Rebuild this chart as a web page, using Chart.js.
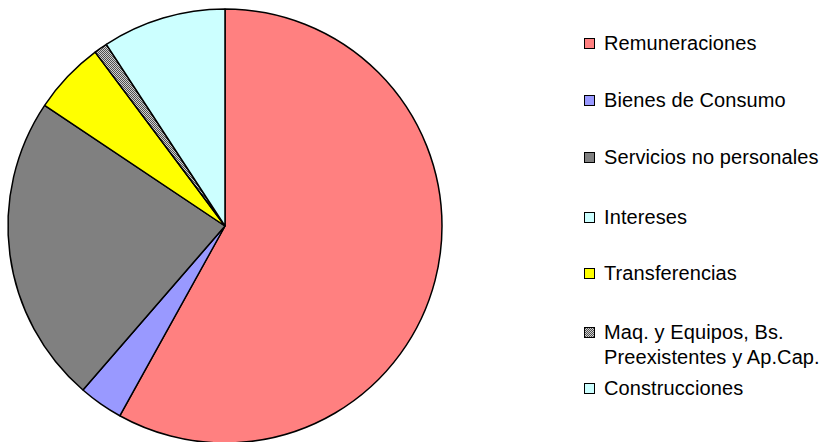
<!DOCTYPE html>
<html lang="es">
<head>
    <meta charset="UTF-8">
    <title>Distribución del gasto</title>
    <style>
        body {
            margin: 0;
            padding: 0;
            background: #fff;
            width: 824px;
            height: 442px;
            overflow: hidden;
            position: relative;
            font-family: 'Liberation Sans', Arial, sans-serif;
        }

        #pieWrap {
            position: absolute;
            left: 0;
            top: 0;
            width: 450px;
            height: 442px;
        }

        .legend-item {
            position: absolute;
            left: 584px;
            font-size: 20px;
            letter-spacing: 0.1px;
            line-height: 25px;
            color: #000;
            white-space: nowrap;
        }

        .legend-item .box {
            position: absolute;
            left: 0;
            top: 7px;
            width: 9px;
            height: 9px;
            border: 1.5px solid #000;
        }

        .legend-item .txt {
            margin-left: 20px;
        }
    </style>
</head>
<body>
    <div id="pieWrap"><canvas id="pieChart" width="450" height="442"></canvas></div>
    <div id="legend"></div>

    <script src="https://cdn.jsdelivr.net/npm/chart.js"></script>
    <script>
        // categories and shares (%)
        const categories = [
            'Remuneraciones',
            'Bienes de Consumo',
            'Servicios no personales',
            'Intereses',
            'Transferencias',
            'Maq. y Equipos, Bs. Preexistentes y Ap.Cap.',
            'Construcciones'
        ];
        const shares = [58.0, 3.3, 23.0, 0, 5.4, 1.0, 9.2];
        const legendLines = [
            ['Remuneraciones'],
            ['Bienes de Consumo'],
            ['Servicios no personales'],
            ['Intereses'],
            ['Transferencias'],
            ['Maq. y Equipos, Bs.', 'Preexistentes y Ap.Cap.'],
            ['Construcciones']
        ];

        // checkered fill for the small "Maq." slice
        function makeChecker() {
            let c = document.createElement('canvas');
            c.width = 2;
            c.height = 2;
            let g = c.getContext('2d');
            g.fillStyle = '#d0d0d0';
            g.fillRect(0, 0, 2, 2);
            g.fillStyle = '#505050';
            g.fillRect(0, 0, 1, 1);
            g.fillRect(1, 1, 1, 1);
            return c;
        }

        let checker = makeChecker();
        let ctx = document.getElementById('pieChart').getContext('2d');
        let checkerPattern = ctx.createPattern(checker, 'repeat');

        const colors = ['#FF8080', '#9999FF', '#808080', '#CCFFFF', '#FFFF00', checkerPattern, '#CCFFFF'];

        new Chart(ctx, {
            type: 'pie',
            data: {
                labels: categories,
                datasets: [{
                    data: shares,
                    backgroundColor: colors,
                    borderColor: '#000',
                    borderWidth: 1.5
                }]
            },
            options: {
                responsive: false,
                animation: false,
                radius: 217,
                layout: { padding: { top: 10 } },
                plugins: {
                    legend: { display: false },
                    tooltip: { enabled: false }
                }
            }
        });

        // legend on the right, one row per category
        const legendTops = [31, 88, 145, 205, 261, 320, 376];
        let legend = document.getElementById('legend');
        legendLines.forEach((lines, i) => {
            let item = document.createElement('div');
            item.className = 'legend-item';
            item.style.top = legendTops[i] + 'px';
            let box = document.createElement('div');
            box.className = 'box';
            if (i === 5) {
                box.style.backgroundImage = 'url(' + checker.toDataURL() + ')';
            } else {
                box.style.background = colors[i];
            }
            item.appendChild(box);
            let txt = document.createElement('div');
            txt.className = 'txt';
            txt.innerHTML = lines.join('<br>');
            item.appendChild(txt);
            legend.appendChild(item);
        });
    </script>
</body>
</html>
